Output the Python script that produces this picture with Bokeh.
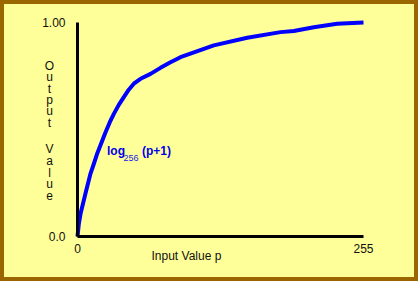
from bokeh.plotting import figure
from bokeh.models import Range1d, FixedTicker, Label
from bokeh.layouts import column
from bokeh.embed import file_html
from bokeh.resources import INLINE

# Data
p_values = [0, 1.2, 2.7, 7.1, 11.6, 14.6, 17.6, 25.0, 28.8, 32.4, 36.8, 41.3,
            45.7, 50.2, 56.2, 65.1, 74.0, 82.9, 91.8, 121.5, 151.3, 181.0,
            192.9, 210.7, 231.5, 255]
out_values = [0, 0.059, 0.106, 0.201, 0.294, 0.340, 0.388, 0.487, 0.534, 0.573,
              0.615, 0.651, 0.686, 0.714, 0.737, 0.760, 0.788, 0.814, 0.838,
              0.893, 0.929, 0.955, 0.960, 0.978, 0.994, 1.0]
x_ticks = [0, 255]
x_tick_labels = ["0", "255"]
y_ticks = [0, 1]
y_tick_labels = ["0.0", "1.00"]
x_title = "Input Value  p"
y_title = "Output Value"
curve_label = ["log", "256", "(p+1)"]

BG = "#FFFF99"
BORDER = "#996600"
FONT = "Liberation Sans"
TXT = "#111111"
SHIFT = 5  # empirical baseline correction (pixels)

# pixel -> data helpers (reference pixel positions of the window)
def dx(px):
    return (px - 77) * 255.0 / 286.0

def dy(py):
    return (236 - py) / 214.0

def ty(py):
    return dy(py - SHIFT)

p = figure(width=410, height=273, output_backend="svg", toolbar_location=None,
           x_range=Range1d(dx(4), dx(414)), y_range=Range1d(dy(277), dy(4)),
           min_border=0, x_axis_location="below", y_axis_location="left")
p.background_fill_color = BG
p.border_fill_color = BG
p.outline_line_color = None
p.grid.visible = False

for ax in (p.xaxis[0], p.yaxis[0]):
    ax.fixed_location = 0
    ax.axis_line_width = 3
    ax.axis_line_color = "black"
    ax.major_tick_line_color = None
    ax.minor_tick_line_color = None
    ax.major_tick_in = 0
    ax.major_tick_out = 0
    ax.minor_tick_in = 0
    ax.minor_tick_out = 0
    ax.major_label_text_font = FONT
    ax.major_label_text_font_size = "12px"
    ax.major_label_text_color = TXT

p.xaxis[0].bounds = (0, 255)
p.xaxis[0].ticker = FixedTicker(ticks=x_ticks)
p.xaxis[0].major_label_overrides = {t: l for t, l in zip(x_ticks, x_tick_labels)}
p.xaxis[0].major_label_standoff = 7
p.yaxis[0].bounds = (0, 1)
p.yaxis[0].ticker = FixedTicker(ticks=y_ticks)
p.yaxis[0].major_label_overrides = {t: l for t, l in zip(y_ticks, y_tick_labels)}
p.yaxis[0].major_label_standoff = 12

p.line(p_values, out_values, line_color="#0000FF", line_width=4, line_join="round")

# x axis title
p.add_layout(Label(x=dx(151), y=ty(260), text=x_title, text_font=FONT,
                   text_font_size="12px", text_align="left",
                   text_baseline="alphabetic", text_color=TXT))

# y axis title, stacked letters (baselines in reference pixels)
letter_base = [70, 81.5, 93, 104, 115.5, 127, None, 153, 165, 177, 188, 200]
for ch, yb in zip(y_title, letter_base):
    if ch == " ":
        continue
    p.add_layout(Label(x=dx(49), y=ty(yb), text=ch, text_font=FONT,
                       text_font_size="12px", text_align="center",
                       text_baseline="alphabetic", text_color=TXT))

# curve annotation
p.add_layout(Label(x=dx(106.5), y=ty(155), text=curve_label[0], text_font=FONT,
                   text_font_size="12px", text_font_style="bold",
                   text_baseline="alphabetic", text_color="#0000EE"))
p.add_layout(Label(x=dx(123), y=ty(162), text=curve_label[1], text_font=FONT,
                   text_font_size="9px", text_baseline="alphabetic",
                   text_color="#2222EE"))
p.add_layout(Label(x=dx(141.5), y=ty(155), text=curve_label[2], text_font=FONT,
                   text_font_size="12px", text_font_style="bold",
                   text_baseline="alphabetic", text_color="#0000EE"))

layout = column(p, styles={"border": "4px solid " + BORDER, "background-color": BG,
                           "box-sizing": "content-box"})

open("out.html", "w").write(file_html(layout, INLINE))
